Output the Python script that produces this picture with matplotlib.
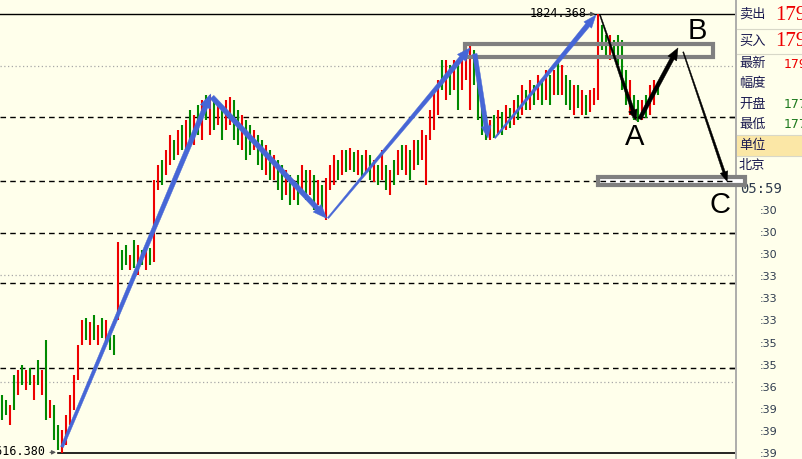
import numpy as np
import matplotlib
matplotlib.use("Agg")
import matplotlib.pyplot as plt
from matplotlib.patches import Polygon, Rectangle

# ---------------- data ----------------
highs = [1643.9, 1641.5, 1639.1, 1653.3, 1655.7, 1658.1, 1655.7, 1656.6, 1653.3, 1660.4,
         1655.7, 1669.9, 1641.5, 1639.1, 1629.6, 1627.3, 1634.4, 1643.9, 1653.3, 1667.5,
         1679.4, 1680.3, 1678.4, 1681.8, 1677.0, 1680.3, 1679.4, 1674.6, 1672.3, 1716.3,
         1712.5, 1714.9, 1710.2, 1717.3, 1714.9, 1712.5, 1714.9, 1713.5, 1745.7, 1752.8,
         1755.2, 1759.9, 1767.0, 1764.7, 1769.4, 1771.8, 1774.1, 1778.9, 1776.5, 1781.3,
         1783.6, 1786.0, 1786.0, 1783.6, 1781.3, 1781.3, 1783.6, 1785.0, 1783.6, 1778.9,
         1776.5, 1774.1, 1771.8, 1769.4, 1767.0, 1764.7, 1762.3, 1759.9, 1757.6, 1755.2,
         1752.8, 1750.5, 1748.1, 1745.7, 1748.1, 1752.8, 1750.5, 1750.5, 1748.1, 1745.7,
         1743.4, 1746.7, 1752.8, 1757.6, 1755.2, 1759.9, 1759.9, 1760.9, 1759.0, 1759.9,
         1757.6, 1759.9, 1757.6, 1755.2, 1752.8, 1759.9, 1752.8, 1750.5, 1755.2, 1759.9,
         1762.3, 1762.3, 1759.9, 1764.7, 1764.7, 1769.4, 1767.0, 1778.9, 1788.4, 1793.1,
         1802.6, 1802.6, 1800.2, 1802.6, 1800.2, 1802.6, 1809.7, 1809.7, 1807.3, 1793.1,
         1783.6, 1776.5, 1774.1, 1776.5, 1778.9, 1777.9, 1781.3, 1779.8, 1783.6, 1786.0,
         1790.7, 1788.4, 1793.1, 1790.7, 1795.5, 1793.1, 1797.8, 1795.5, 1797.8, 1802.6,
         1800.2, 1795.5, 1793.1, 1790.7, 1790.7, 1788.4, 1786.0, 1788.4, 1789.3, 1824.4,
         1819.2, 1814.4, 1814.4, 1812.0, 1814.4, 1812.0, 1797.8, 1793.1, 1786.0, 1783.6,
         1783.6, 1786.0, 1790.7, 1793.1, 1792.1]
lows = [1632.0, 1634.4, 1629.6, 1636.7, 1643.9, 1648.6, 1646.2, 1648.6, 1641.5, 1648.6,
        1643.9, 1632.0, 1632.9, 1622.5, 1617.8, 1616.4, 1620.2, 1629.6, 1636.7, 1651.0,
        1667.5, 1669.9, 1667.5, 1669.9, 1667.5, 1670.9, 1667.5, 1665.2, 1662.8, 1679.4,
        1703.1, 1705.4, 1703.1, 1704.0, 1700.7, 1705.4, 1703.1, 1705.4, 1706.9, 1741.0,
        1743.4, 1748.1, 1752.8, 1755.2, 1757.6, 1759.9, 1759.9, 1764.7, 1762.3, 1767.0,
        1764.7, 1774.1, 1767.0, 1769.4, 1771.8, 1764.7, 1769.4, 1771.8, 1764.7, 1762.3,
        1759.9, 1755.2, 1757.6, 1759.9, 1752.8, 1750.5, 1748.1, 1745.7, 1745.7, 1741.0,
        1736.2, 1738.6, 1733.9, 1736.2, 1733.9, 1738.6, 1736.2, 1738.6, 1731.5, 1733.9,
        1731.5, 1726.8, 1741.0, 1743.4, 1745.7, 1748.1, 1749.5, 1750.5, 1749.5, 1748.1,
        1746.7, 1749.5, 1745.7, 1744.8, 1743.4, 1745.7, 1741.0, 1738.6, 1743.4, 1748.1,
        1750.5, 1748.1, 1745.7, 1750.5, 1752.8, 1755.2, 1743.4, 1764.7, 1769.4, 1776.5,
        1788.4, 1783.6, 1786.0, 1788.4, 1778.9, 1788.4, 1793.1, 1778.9, 1790.7, 1774.1,
        1767.0, 1764.7, 1764.7, 1765.6, 1767.0, 1767.0, 1769.4, 1770.4, 1771.8, 1774.1,
        1776.5, 1778.9, 1778.9, 1781.3, 1783.6, 1781.3, 1783.6, 1781.3, 1786.0, 1786.0,
        1786.0, 1781.3, 1778.9, 1776.5, 1779.8, 1776.5, 1776.5, 1777.9, 1781.3, 1783.6,
        1807.3, 1804.9, 1802.6, 1804.9, 1800.2, 1788.4, 1781.3, 1776.5, 1774.1, 1773.2,
        1774.1, 1775.1, 1776.5, 1781.3, 1786.0]
direction = ("GGRGRGRGRG" "RGRGGRRRRR" "RGRGRGRGGR" "GGRGRGRGRR" "GRRGRGRGRG"
             "RGRGRGRRGG" "RGGRGGRGRG" "GRGRGRGRGR" "GRRRGRGRGR" "GRGRGRGRGR"
             "GRGRGRRRRR" "GRGRGRRRGG" "GGRGRGRGRG" "RGRGRGRGRG" "RGGRGRGRRR"
             "GGRGGGGRGG" "RGRRG")

price_high = 1824.368
price_low = 1616.380
dashed_levels = [1775.57, 1745.24, 1720.60, 1696.91, 1656.64]
dotted_levels = [1799.73, 1700.70, 1650.01]

panel_labels = ["卖出", "买入", "最新", "幅度", "开盘", "最低", "单位", "北京"]
panel_values = ["179", "179", "179", "", "177", "177", "", ""]
time_labels = ["05:59", ":30", ":30", ":30", ":33", ":33", ":33", ":35", ":35", ":36", ":39", ":39", ":39"]

# ---------------- figure ----------------
W, H = 803, 459
BG = "#FFFFEB"
RED = "#EE0000"
GREEN = "#008A00"
BLUE = "#4666D6"
GRAY = "#808080"

fig = plt.figure(figsize=(W / 100, H / 100), dpi=100)
fig.patch.set_facecolor(BG)

panel = fig.add_axes([735 / W, 0, (W - 735) / W, 1])
panel.set_xlim(735, W)
panel.set_ylim(H, 0)
panel.set_facecolor(BG)
panel.axis("off")
panel.set_zorder(0)

ax = fig.add_axes([0, 0, 735 / W, 1])
ax.set_zorder(1)
ax.set_facecolor(BG)
n = len(highs)
idx = np.arange(n)
ax.set_xlim(-0.5, 183.25)
ax.set_ylim(1613.53, 1831.0)
for s in ax.spines.values():
    s.set_visible(False)
ax.set_xticks([])
ax.set_yticks([])

# reference lines
for lv in dashed_levels:
    ax.axhline(lv, color="black", lw=1, ls=(0, (4, 3)), zorder=1)
    ax.plot([181.9, 183.25], [lv, lv], color="black", lw=1, zorder=1)
for lv in dotted_levels:
    ax.axhline(lv, color="#A8A8A8", lw=0.9, ls=(0, (1, 2)), zorder=1)
ax.axhline(price_high, color="black", lw=1, zorder=1)
ax.plot([14, 183.25], [price_low, price_low], color="black", lw=1.2, zorder=1)

# bars
cols = [RED if c == "R" else GREEN for c in direction]
ax.vlines(idx, lows, highs, colors=cols, lw=1.5, zorder=2)

# extreme labels
ax.text(131.8, price_high, "1824.368", fontsize=8.5, family="DejaVu Sans Mono",
        ha="left", va="center", color="black", zorder=3)
ax.annotate("", xy=(149, price_high), xytext=(146.0, price_high),
            arrowprops=dict(arrowstyle="-|>", color="#555555", lw=0.8, mutation_scale=6), zorder=3)
ax.text(10.8, price_low + 0.8, "1616.380", fontsize=8.5, family="DejaVu Sans Mono",
        ha="right", va="center", color="black", zorder=3)
ax.annotate("", xy=(14.2, price_low + 0.3), xytext=(11.3, price_low + 0.3),
            arrowprops=dict(arrowstyle="-|>", color="#555555", lw=0.8, mutation_scale=6), zorder=3)


def taper_arrow(p0, p1, w0, w1, hw, hl, color, z=5):
    T = ax.transData
    a = T.transform(p0)
    b = T.transform(p1)
    d = b - a
    L = np.hypot(*d)
    u = d / L
    nv = np.array([-u[1], u[0]])
    neck = b - u * hl
    pts = [a + nv * w0 / 2, neck + nv * w1 / 2, neck + nv * hw / 2, b,
           neck - nv * hw / 2, neck - nv * w1 / 2, a - nv * w0 / 2]
    pts = T.inverted().transform(np.array(pts))
    ax.add_patch(Polygon(pts, closed=True, facecolor=color, edgecolor=color, lw=0.3,
                         zorder=z, clip_on=False))


# blue waves
taper_arrow((15.0, 1619.2), (52.2, 1786.5), 3, 5, 11, 14, BLUE)
taper_arrow((52.5, 1785.0), (81.2, 1727.5), 5, 5, 11, 14, BLUE)
taper_arrow((81.5, 1727.7), (117.0, 1808.3), 1.5, 5, 11, 13, BLUE)
taper_arrow((118.2, 1805.5), (121.5, 1765.6), 4.5, 4.5, 10, 12, BLUE)
taper_arrow((123.2, 1765.6), (148.5, 1823.9), 1.5, 5, 10, 13, BLUE)
# black projection
taper_arrow((149.5, 1823.9), (158.6, 1773.8), 1, 3.5, 9, 11, "black")
taper_arrow((159.4, 1774.6), (169.0, 1808.3), 4, 4, 10, 12, "black")
taper_arrow((170.3, 1806.4), (181.3, 1745.0), 1, 2.6, 8, 10, "black")

# boxes
ax.add_patch(Rectangle((115.75, 1804.0), 62.0, 6.2, fill=False, edgecolor=GRAY, lw=3, zorder=4))
ax.add_patch(Rectangle((149.0, 1743.4), 36.75, 3.8, facecolor="white", edgecolor=GRAY, lw=3,
                       zorder=4, clip_on=False))
ax.plot([149.5, 183.0], [1745.24, 1745.24], color="black", lw=1, ls=(0, (4, 3)), zorder=4.5,
        clip_on=False)

# letters
ax.text(173.8, 1816.5, "B", fontsize=21, family="Liberation Sans", ha="center", va="center", zorder=6)
ax.text(158.2, 1766.0, "A", fontsize=21, family="Liberation Sans", ha="center", va="center", zorder=6)
ax.text(179.5, 1734.0, "C", fontsize=21, family="Liberation Sans", ha="center", va="center", zorder=6)

# ---------------- right panel ----------------
panel.axvline(736, color="#A0A0A0", lw=1.2)
panel.add_patch(Rectangle((737, 135), W - 737, 21, facecolor="#FBE7A6", edgecolor="none"))
for yy in (29, 54, 135, 156):
    panel.plot([737, W], [yy, yy], color="#D8D8C8", lw=0.8)

label_y = [14, 41, 63, 84, 104, 124, 145, 166]
cjk = ["Noto Sans CJK SC", "DejaVu Sans"]
for lab, yy in zip(panel_labels, label_y):
    panel.text(739, yy, lab, fontsize=9.5, family=cjk, color="#1A1A50", ha="left", va="center")

panel.text(775, 15, panel_values[0], fontsize=15, family="Liberation Serif", color=RED,
           ha="left", va="center")
panel.text(775, 42, panel_values[1], fontsize=15, family="Liberation Serif", color=RED,
           ha="left", va="center")
panel.text(784, 64, panel_values[2], fontsize=9, family="DejaVu Sans", color=RED,
           ha="left", va="center")
panel.text(784, 105, panel_values[4], fontsize=9, family="DejaVu Sans", color="#1E7A1E",
           ha="left", va="center")
panel.text(784, 125, panel_values[5], fontsize=9, family="DejaVu Sans", color="#1E7A1E",
           ha="left", va="center")

panel.text(740, 189, time_labels[0], fontsize=10, family="DejaVu Sans Mono", color="#2E3B4E",
           ha="left", va="center")
for k, t in enumerate(time_labels[1:]):
    panel.text(760, 211 + k * 22.1, t, fontsize=8, family="DejaVu Sans", color="#2E3B4E",
               ha="left", va="center")

fig.savefig("out.png", dpi=100, facecolor=BG)
